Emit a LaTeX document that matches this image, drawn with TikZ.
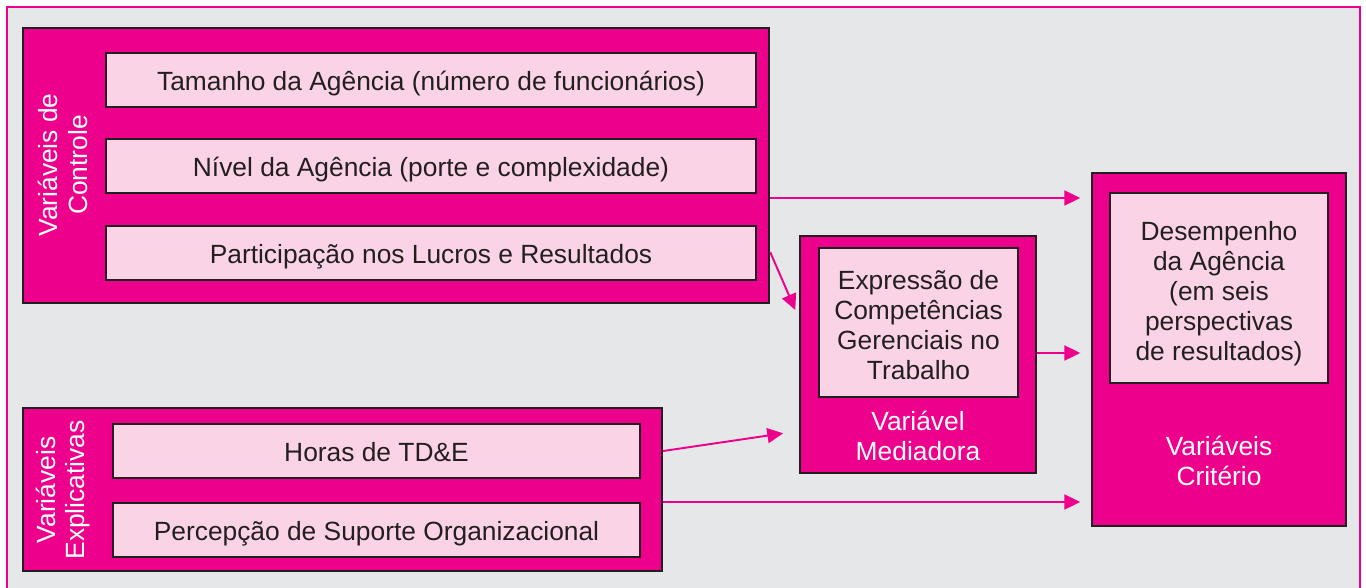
\documentclass[tikz,border=0pt]{standalone}
\usepackage{fontspec}
\setmainfont{Liberation Sans}
\usetikzlibrary{arrows.meta}
\definecolor{rosa}{HTML}{EC008C}
\definecolor{rosaclaro}{HTML}{FAD4E6}
\definecolor{cinza}{HTML}{E6E7E8}
\definecolor{contorno}{HTML}{231F20}
\tikzset{
  grupo/.style={draw=contorno, line width=1.4pt, fill=rosa, inner sep=0pt},
  item/.style={draw=contorno, line width=1.3pt, fill=rosaclaro, inner sep=0pt,
    text=contorno, align=center, font=\fontsize{15}{17}\selectfont},
  linha/.style={item, text height=15pt, text depth=3.6pt,
    minimum height=1.08cm},
  rotulo/.style={text=white, align=center, font=\fontsize{15}{17}\selectfont},
  seta/.style={draw=rosa, line width=1.1pt, -{Triangle[length=9pt,width=8.5pt]}}
}
\begin{document}
\begin{tikzpicture}[x=0.02cm,y=-0.02cm]
  \useasboundingbox (0,0) rectangle (1366,588);
  \fill[cinza] (7,7) rectangle (1360,588);
  \draw[rosa, line width=1.2pt] (7,588) -- (7,7) -- (1360,7) -- (1360,588);

  % variaveis de controle
  \node[grupo, minimum width=14.92cm, minimum height=5.5cm] (ctrl) at (396,165.5) {};
  \node[rotulo, rotate=90] (ctrllab) at (63,165) {Variáveis de\\Controle};
  \node[linha, minimum width=13cm] (tamanho) at (431,80) {Tamanho da Agência (número de funcionários)};
  \node[linha, minimum width=13cm] (nivel) at (431,166) {Nível da Agência (porte e complexidade)};
  \node[linha, minimum width=13cm] (plr) at (431,253) {Participação nos Lucros e Resultados};

  % variaveis explicativas
  \node[grupo, minimum width=12.78cm, minimum height=3.26cm] (expl) at (342.5,489.5) {};
  \node[rotulo, rotate=90] (expllab) at (63,490) {Variáveis\\Explicativas};
  \node[linha, minimum width=10.54cm] (horas) at (376.5,451) {Horas de TD\&E};
  \node[linha, minimum width=10.54cm] (percep) at (376.5,530) {Percepção de Suporte Organizacional};

  % variavel mediadora
  \node[grupo, minimum width=4.72cm, minimum height=4.74cm] (med) at (918,354.5) {};
  \node[item, minimum width=3.98cm, minimum height=2.98cm] (medint) at (918.5,322.5) {\rule{0pt}{14pt}Expressão de\\Competências\\Gerenciais no\\Trabalho};
  \node[rotulo] (medlab) at (918,436) {Variável\\Mediadora};

  % variaveis criterio
  \node[grupo, minimum width=5.08cm, minimum height=7.06cm] (crit) at (1219,349.5) {};
  \node[item, minimum width=4.36cm, minimum height=3.8cm] (critint) at (1219,288) {\rule{0pt}{17.5pt}Desempenho\\da Agência\\(em seis\\perspectivas\\de resultados)};
  \node[rotulo] (critlab) at (1219,461) {Variáveis\\Critério};

  \draw[seta, shorten >=6] (ctrl.east |- 0,198) -- (crit.west |- 0,198);
  \draw[seta, shorten >=5] (ctrl.east |- 0,252) -- (med.west |- 0,318);
  \draw[seta, shorten >=9] (expl.east |- 0,451) -- (med.west |- 0,431);
  \draw[seta, shorten >=6] (expl.east |- 0,502) -- (crit.west |- 0,502);
  \draw[seta, shorten >=6] (med.east |- 0,353) -- (crit.west |- 0,353);
\end{tikzpicture}
\end{document}
